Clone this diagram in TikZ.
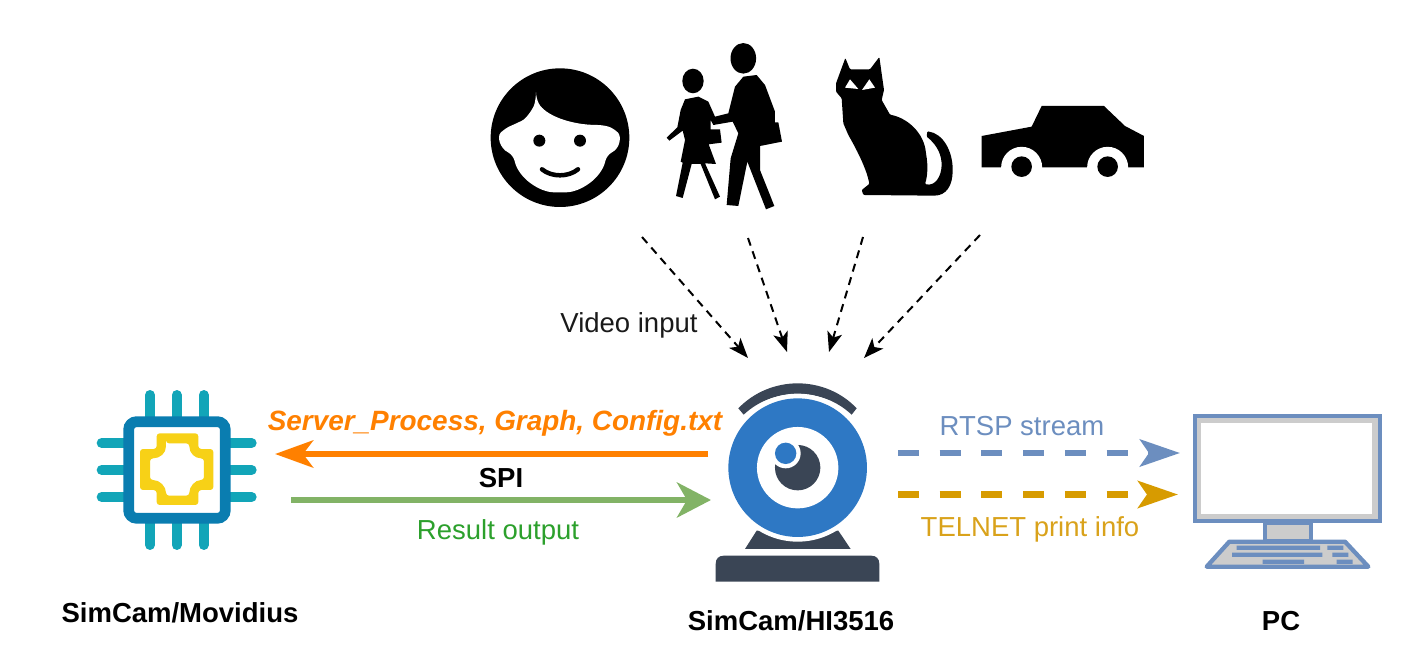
\documentclass[tikz,border=0pt]{standalone}
\usepackage{fontspec}
\setmainfont{Liberation Sans}
\usetikzlibrary{arrows.meta}
\definecolor{dk}{HTML}{3A4555}
\definecolor{cblue}{HTML}{2E78C4}
\definecolor{pinteal}{HTML}{12A5B8}
\definecolor{chipb}{HTML}{0A7DB0}
\definecolor{chipy}{HTML}{F7D117}
\definecolor{pcb}{HTML}{6C8EBF}
\definecolor{pcg}{HTML}{CCCCCC}
\definecolor{orn}{HTML}{FF8000}
\definecolor{grn}{HTML}{82B366}
\definecolor{gold}{HTML}{D79B00}
\definecolor{grntxt}{HTML}{2CA02C}
\definecolor{goldtxt}{HTML}{D9A21B}
\definecolor{txtdk}{HTML}{1A1A1A}
\tikzset{
  lbl/.style={inner sep=0pt,font=\fontsize{27.5}{30}\selectfont},
  blbl/.style={lbl,font=\fontsize{27.5}{30}\selectfont\bfseries},
  vid/.style={black,line width=2pt,dash pattern=on 8pt off 6pt,-{Stealth[length=20pt,width=15pt,inset=5pt]}},
  solidorn/.style={line width=6.5pt,-{Stealth[length=38pt,width=27pt,inset=10pt]}},
  solidgrn/.style={line width=6.5pt,-{Stealth[length=34pt,width=35pt,inset=10pt]}},
  dasharrow/.style={line width=6.5pt,dash pattern=on 21pt off 20.7pt,-{Stealth[length=40pt,width=27pt,inset=9pt]}},
  pinline/.style={pinteal,line width=10pt,line cap=round},
}
\begin{document}
\begin{tikzpicture}[x=1pt,y=-1pt]
\useasboundingbox (0,0) rectangle (1415,661);
% face
\begin{scope}[shift={(470,30)},x=0.3333pt,y=-0.3333pt]
\fill[black] (270,323) circle[radius=208pt/3];
\fill[white,rounded corners=6pt] (198,205) .. controls (225,255) and (300,285) .. (400,285) -- (432,295) .. controls (455,320) and (450,355) .. (410,375) .. controls (395,445) and (330,487) .. (270,487) .. controls (210,487) and (145,445) .. (130,375) .. controls (90,355) and (80,320) .. (105,295) -- (140,280) .. controls (170,265) and (190,235) .. (198,205) -- cycle;
\fill[black] (208,332) circle[radius=6pt] (330,332) circle[radius=6pt];
\draw[black,line width=4.5pt,line cap=round] (216,418) .. controls (245,442) and (295,442) .. (324,418);
\fill[black] (669,153) ellipse[x radius=10.7pt,y radius=12.3pt];
\fill[black] (820,85) ellipse[x radius=12.8pt,y radius=15.3pt];
\end{scope}
% woman and man
\begin{scope}[shift={(660,90)},x=0.3333pt,y=-0.3333pt]
\fill[black,line join=round] (75,28) -- (115,20) -- (145,35) -- (165,80) -- (205,70) -- (225,-10) -- (250,-40) -- (290,-45) -- (315,-15) -- (345,65) -- (345,97) -- (355,97) -- (366,155) -- (300,168) -- (300,240) -- (343,348) -- (318,358) -- (262,215) -- (235,348) -- (200,345) -- (212,205) -- (235,130) -- (218,95) -- (160,105) -- (152,90) -- (152,118) -- (180,118) -- (185,158) -- (146,163) -- (168,222) -- (135,220) -- (180,320) -- (165,328) -- (122,222) -- (95,222) -- (68,324) -- (48,318) -- (68,218) -- (62,215) -- (75,150) -- (68,122) -- (28,152) -- (20,143) -- (52,112) -- (62,60) -- cycle;
\end{scope}
% cat and car
\begin{scope}[shift={(820,40)},x=0.3333pt,y=-0.3333pt]
\fill[black,rounded corners=1pt] (76,54) -- (90,88) -- (150,88) -- (178,51) -- (192,150) -- (185,180) -- (210,224) .. controls (265,235) and (312,280) .. (318,340) .. controls (325,380) and (322,410) .. (315,432) .. controls (345,440) and (365,410) .. (365,370) .. controls (362,335) and (345,310) .. (320,290) -- (322,274) .. controls (370,280) and (398,335) .. (398,390) .. controls (398,435) and (380,467) .. (340,467) -- (130,465) -- (125,450) -- (148,432) .. controls (140,385) and (105,320) .. (85,285) -- (70,250) -- (65,175) -- (48,155) -- (48,130) -- cycle;
\fill[white] (90,118) -- (115,147) -- (75,143) -- cycle (148,118) -- (165,143) -- (126,150) -- cycle;
\fill[black] (485,288) -- (635,260) -- (665,198) -- (852,198) -- (915,258) -- (972,288) -- (972,382) -- (485,382) -- cycle;
\fill[white] (605,382) circle[radius=20.5pt] (863,382) circle[radius=20.5pt];
\fill[black] (605,380) circle[radius=10.3pt] (863,380) circle[radius=10.3pt];
\end{scope}
% chip
\begin{scope}[shift={(80,370)},x=0.3333pt,y=-0.3333pt]
\foreach \p in {210,290,371}{
  \draw[pinline] (\p,75) -- (\p,150);
  \draw[pinline] (\p,450) -- (\p,525);
}
\foreach \p in {219,300,381}{
  \draw[pinline] (65,\p) -- (140,\p);
  \draw[pinline] (440,\p) -- (515,\p);
}
\draw[chipb,fill=white,line width=10.7pt,rounded corners=8pt] (146,155) rectangle (436,445);
\end{scope}
\begin{scope}[shift={(130,425)},x=0.3333pt,y=-0.3333pt]
\fill[chipy,even odd rule,rounded corners=3pt] (80,25) -- (205,25) -- (205,72) -- (250,72) -- (250,195) -- (205,195) -- (205,240) -- (80,240) -- (80,195) -- (30,195) -- (30,72) -- (80,72) -- cycle
 (108,55) -- (178,55) .. controls (178,85) and (195,100) .. (222,100) -- (222,165) .. controls (195,165) and (178,185) .. (178,212) -- (108,212) .. controls (108,185) and (90,165) .. (60,165) -- (60,100) .. controls (90,100) and (108,85) .. (108,55) -- cycle;
\end{scope}
% webcam
\begin{scope}[shift={(700,370)},x=0.3333pt,y=-0.3333pt]
\fill[dk] (293,40) .. controls (360,40) and (425,67) .. (470,115) -- (455,134) .. controls (410,92) and (355,72) .. (293,72) .. controls (231,72) and (176,92) .. (131,134) -- (115,115) .. controls (161,67) and (226,40) .. (293,40) -- cycle;
\fill[dk] (170,482) -- (135,537) -- (452,537) -- (415,482) -- cycle;
\fill[white] (293,293) circle[radius=74pt];
\fill[cblue] (293,293) circle[radius=69.3pt];
\fill[white] (293,293) circle[radius=40.7pt];
\fill[dk] (293,293) circle[radius=22.7pt];
\fill[white] (257,250) circle[radius=15pt];
\fill[cblue] (257,250) circle[radius=10.7pt];
\fill[dk] (47,635) -- (47,582) .. controls (47,566) and (56,557) .. (72,557) -- (513,557) .. controls (529,557) and (538,566) .. (538,582) -- (538,635) -- cycle;
\end{scope}
% pc
\begin{scope}[shift={(1170,400)},x=0.3333pt,y=-0.3333pt]
\draw[pcb,fill=pcg,line width=4.3pt] (74,49) rectangle (631,364);
\fill[white] (93,68) rectangle (605,343);
\draw[pcb,fill=pcg,line width=4.3pt] (284,370) rectangle (424,422);
\draw[pcb,fill=pcg,line width=4.3pt,line join=round] (178,425) -- (525,425) -- (595,500) -- (110,500) -- cycle;
\fill[pcb] (200,437) rectangle (450,450) (472,437) rectangle (520,450) (186,458) rectangle (457,471) (487,458) rectangle (535,471) (278,479) rectangle (402,492) (500,479) rectangle (548,492);
\end{scope}
% connector anchors
\coordinate (a1s) at (642,237); \coordinate (a1e) at (748,358);
\coordinate (a2s) at (748,238); \coordinate (a2e) at (787,352);
\coordinate (a3s) at (863,237); \coordinate (a3e) at (829,352);
\coordinate (a4s) at (980,235); \coordinate (a4e) at (864,358);
\draw[vid] (a1s) -- (a1e);
\draw[vid] (a2s) -- (a2e);
\draw[vid] (a3s) -- (a3e);
\draw[vid] (a4s) -- (a4e);
\coordinate (spiL) at (275,454); \coordinate (spiR) at (708,454);
\coordinate (resL) at (291,500); \coordinate (resR) at (711,500);
\coordinate (rtspL) at (898,453); \coordinate (rtspR) at (1180,453);
\coordinate (telL) at (898,494.5); \coordinate (telR) at (1178,494.5);
\draw[solidorn,orn] (spiR) -- (spiL);
\draw[solidgrn,grn] (resL) -- (resR);
\draw[dasharrow,pcb] (rtspL) -- (rtspR);
\draw[dasharrow,gold] (telL) -- (telR);
% labels
\node[lbl,text=txtdk] (video) at (629,325) {Video input};
\node[blbl,text=orn,font=\fontsize{27.9}{30}\selectfont\bfseries\itshape] (files) at (495,423) {Server\_Process, Graph, Config.txt};
\node[blbl] (spi) at (501,478) {SPI};
\node[lbl,text=grntxt] (res) at (498,532) {Result output};
\node[lbl,text=pcb] (rtsp) at (1022,426) {RTSP stream};
\node[lbl,text=goldtxt] (telnet) at (1030,529) {TELNET print info};
\node[blbl] (mov) at (180,613) {SimCam/Movidius};
\node[blbl] (hi) at (791,621) {SimCam/HI3516};
\node[blbl] (pc) at (1281,621) {PC};
\end{tikzpicture}
\end{document}
